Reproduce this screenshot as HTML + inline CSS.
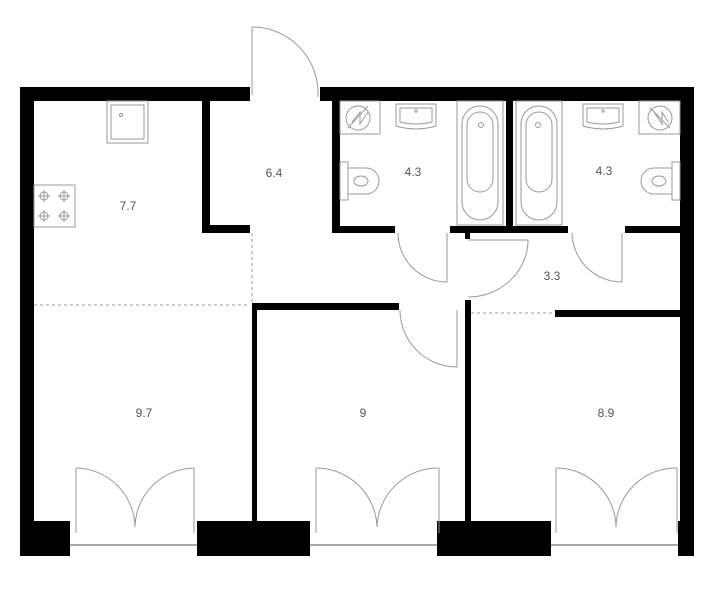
<!DOCTYPE html>
<html><head><meta charset="utf-8"><style>
html,body{margin:0;padding:0;background:#fff;}
svg{display:block;}
text{font-family:"Liberation Sans",sans-serif;font-size:12px;fill:#555;text-anchor:middle;}
</style></head><body>
<svg width="722" height="600" viewBox="0 0 722 600" xmlns="http://www.w3.org/2000/svg">
<g fill="#000">
<rect x="20" y="87" width="230" height="14"/>
<rect x="320" y="87" width="374" height="14"/>
<rect x="20" y="87" width="14" height="434"/>
<rect x="680" y="87" width="14" height="468"/>
<rect x="20" y="521" width="50" height="35"/>
<rect x="197" y="521" width="113" height="35"/>
<rect x="437" y="521" width="114" height="35"/>
<rect x="678" y="521" width="16" height="35"/>
<rect x="202" y="101" width="8" height="132"/>
<rect x="202" y="225" width="48" height="8"/>
<rect x="252" y="303" width="147" height="7"/>
<rect x="252" y="303" width="5" height="218"/>
<rect x="465" y="300" width="6" height="221"/>
<rect x="332" y="101" width="8" height="132"/>
<rect x="332" y="226" width="63" height="7"/>
<rect x="450" y="226" width="118" height="7"/>
<rect x="506" y="101" width="7" height="130"/>
<rect x="625" y="226" width="55" height="7"/>
<rect x="465" y="233" width="5" height="6"/>
<rect x="555" y="310" width="125" height="7"/>
</g>
<g fill="none" stroke="#999" stroke-width="1">
<line x1="252" y1="233" x2="252" y2="303" stroke-dasharray="3,3"/>
<line x1="34" y1="305" x2="250" y2="305" stroke-dasharray="3,3"/>
<line x1="471" y1="313" x2="555" y2="313" stroke-dasharray="3,3"/>
<line x1="70" y1="545" x2="197" y2="545" stroke="#aaa" stroke-width="2"/>
<line x1="310" y1="545" x2="437" y2="545" stroke="#aaa" stroke-width="2"/>
<line x1="551" y1="545" x2="678" y2="545" stroke="#aaa" stroke-width="2"/>
<line x1="252" y1="27" x2="252" y2="95"/>
<path d="M252 27 A66 66 0 0 1 318 93"/>
<line x1="318" y1="90" x2="318" y2="97"/>
<line x1="447" y1="233" x2="447" y2="282"/>
<path d="M398 233 A49 49 0 0 0 447 282"/>
<line x1="622" y1="233" x2="622" y2="282"/>
<path d="M572 233 A50 50 0 0 0 622 282"/>
<line x1="468" y1="240" x2="528" y2="240"/>
<path d="M528 240 A60 57 0 0 1 468 297"/>
<line x1="457" y1="310" x2="457" y2="367"/>
<path d="M400 310 A57 57 0 0 0 457 367"/>
<g>
<line x1="76" y1="468" x2="76" y2="533"/><line x1="194" y1="468" x2="194" y2="533"/>
<path d="M76 468 A60 60 0 0 1 135 527"/><path d="M194 468 A60 60 0 0 0 135 527"/>
<line x1="316" y1="468" x2="316" y2="533"/><line x1="439" y1="468" x2="439" y2="533"/>
<path d="M316 468 A61 61 0 0 1 377 527"/><path d="M439 468 A61 61 0 0 0 377 527"/>
<line x1="556" y1="468" x2="556" y2="533"/><line x1="677" y1="468" x2="677" y2="533"/>
<path d="M556 468 A60 60 0 0 1 616 527"/><path d="M677 468 A60 60 0 0 0 616 527"/>
</g>
<rect x="107" y="101" width="41" height="42"/>
<rect x="111" y="105" width="33" height="34"/>
<circle cx="121" cy="115" r="1.5"/>
<rect x="34" y="185" width="41" height="42"/>
<g>
<circle cx="44" cy="196" r="4"/><circle cx="64" cy="196" r="4"/>
<circle cx="44" cy="216" r="4"/><circle cx="64" cy="216" r="4"/>
<path d="M38 196h12M44 190v12M58 196h12M64 190v12M38 216h12M44 210v12M58 216h12M64 210v12"/>
</g>
<rect x="340" y="101" width="40" height="33"/>
<circle cx="358" cy="118" r="12"/>
<path d="M348 128 L368 106 M352 122 L360 112 L360 124 L368 112"/>
<path d="M396 104 h40 v22 q-20 6 -40 0 z"/>
<path d="M400 108 h32 v14 q-16 4 -32 0 z"/>
<circle cx="416" cy="111" r="1.2"/>
<rect x="340" y="162" width="8" height="38"/>
<path d="M348 168 h18 a13 13 0 0 1 0 26 h-18 z"/>
<ellipse cx="361" cy="181" rx="7" ry="5"/>
<rect x="457" y="101" width="46" height="124"/>
<rect x="462" y="106" width="36" height="114" rx="18"/>
<rect x="467" y="112" width="26" height="80" rx="13"/>
<circle cx="481" cy="125" r="2.5"/>
<rect x="516" y="101" width="46" height="124"/>
<rect x="521" y="106" width="36" height="114" rx="18"/>
<rect x="526" y="112" width="26" height="80" rx="13"/>
<circle cx="538" cy="125" r="2.5"/>
<rect x="639" y="101" width="41" height="33"/>
<circle cx="660" cy="118" r="12"/>
<path d="M650 108 L670 128 M654 112 L662 124 L662 112 L668 122"/>
<path d="M583 104 h40 v22 q-20 6 -40 0 z"/>
<path d="M587 108 h32 v14 q-16 4 -32 0 z"/>
<circle cx="603" cy="111" r="1.2"/>
<rect x="672" y="162" width="8" height="38"/>
<path d="M672 168 h-18 a13 13 0 0 0 0 26 h18 z"/>
<ellipse cx="659" cy="181" rx="7" ry="5"/>
</g>
<text x="128" y="210">7.7</text>
<text x="274" y="177">6.4</text>
<text x="413" y="176">4.3</text>
<text x="604" y="175">4.3</text>
<text x="552" y="280">3.3</text>
<text x="144" y="417">9.7</text>
<text x="363" y="417">9</text>
<text x="606" y="417">8.9</text>
</svg>
</body></html>
